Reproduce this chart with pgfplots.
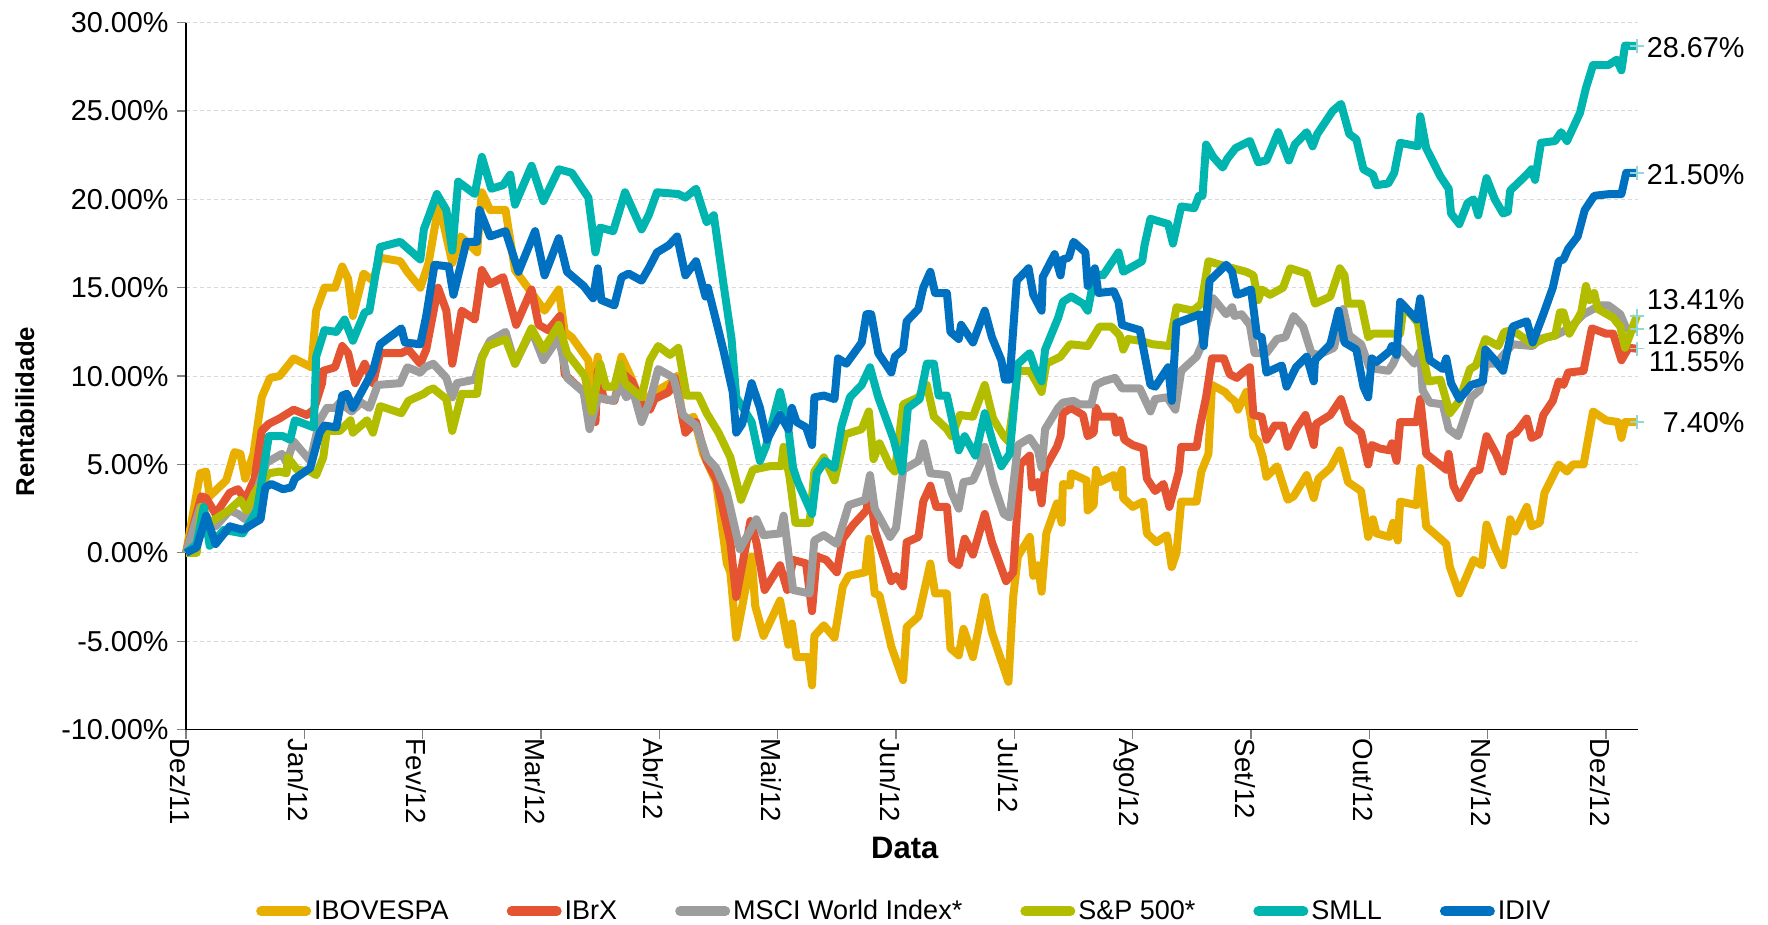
\documentclass[border=0pt]{standalone}
\usepackage{fontspec}
\setmainfont{Liberation Sans}
\usepackage{pgfplots}
\pgfplotsset{compat=1.18}
\definecolor{ibov}{HTML}{E9AF00}
\definecolor{ibrx}{HTML}{E45332}
\definecolor{msci}{HTML}{9D9D9D}
\definecolor{sp}{HTML}{B3BD00}
\definecolor{smll}{HTML}{00B5B0}
\definecolor{idiv}{HTML}{0070C0}
\definecolor{endc}{HTML}{8FD6D6}
\begin{document}
\begin{tikzpicture}
\begin{axis}[
  scale only axis, width=726pt, height=353.5pt,
  xmin=0, xmax=12.27, ymin=-10, ymax=30,
  clip=false,
  axis x line*=bottom, axis y line*=left,
  axis line style={black, line width=0.6pt, -},
  xtick={0,1,2,3,4,5,6,7,8,9,10,11,12},
  xticklabels={Dez/11,Jan/12,Fev/12,Mar/12,Abr/12,Mai/12,Jun/12,Jul/12,Ago/12,Set/12,Out/12,Nov/12,Dez/12},
  ytick={-10,-5,0,5,10,15,20,25,30},
  yticklabels={-10.00\%,-5.00\%,0.00\%,5.00\%,10.00\%,15.00\%,20.00\%,25.00\%,30.00\%},
  tick align=outside, major tick length=4.5pt,
  tick style={gray, line width=0.6pt},
  ymajorgrids, major grid style={draw=gray!30, line width=0.5pt, dash pattern=on 2pt off 1.5pt},
  yticklabel style={font=\fontsize{14.4}{17}\selectfont, anchor=east, inner sep=0pt, xshift=-4pt},
  xticklabel style={font=\fontsize{13.8}{16}\selectfont, rotate=-90, anchor=west, inner sep=0pt, yshift=-3pt},
  xlabel={Data}, ylabel={Rentabilidade},
  xlabel style={font=\fontsize{15.5}{18}\bfseries, at={(axis description cs:0.495,-0.167)}, anchor=center},
  ylabel style={font=\fontsize{12.9}{15}\bfseries, at={(axis description cs:-0.111,0.45)}, anchor=center, rotate=0},
  legend columns=6,
  legend style={draw=none, fill=none, at={(axis description cs:0.494,-0.257)}, anchor=center,
    font=\fontsize{13.5}{16}\selectfont, inner sep=0pt,
    nodes={inner sep=0pt},
    /tikz/every odd column/.append style={column sep=1.5pt},
    /tikz/every even column/.append style={column sep=29pt}},
  legend cell align=left,
  legend image code/.code={\draw[#1, line width=5pt, line cap=round] (2.5pt,0pt) -- (25pt,0pt);},
  every axis plot/.append style={line width=4pt, line join=round},
]
\addplot[ibov] coordinates {(0,0) (0.12,4.5) (0.17,4.6) (0.2,3.2) (0.34,4.1) (0.41,5.7) (0.46,5.6) (0.5,4.2) (0.57,5.6) (0.64,8.8) (0.71,9.9) (0.79,10.0) (0.91,11.0) (1.06,10.5) (1.1,13.7) (1.17,15.0) (1.26,15.0) (1.32,16.2) (1.37,15.5) (1.41,13.4) (1.5,15.8) (1.58,15.4) (1.64,16.7) (1.81,16.5) (1.87,15.9) (1.98,15.0) (2.05,16.4) (2.13,19.5) (2.17,18.8) (2.25,16.4) (2.32,17.9) (2.37,17.6) (2.46,17.0) (2.5,20.4) (2.57,19.4) (2.7,19.4) (2.78,16.0) (2.9,14.9) (3.03,13.7) (3.15,14.9) (3.2,12.5) (3.26,12.2) (3.4,10.9) (3.43,8.6) (3.48,11.1) (3.51,9.4) (3.62,9.4) (3.68,11.1) (3.75,10.1) (3.85,8.5) (3.96,9.1) (4.09,9.6) (4.15,10.0) (4.2,7.4) (4.29,7.7) (4.37,5.6) (4.48,4.0) (4.57,-0.6) (4.6,-1.1) (4.65,-4.8) (4.78,-0.2) (4.81,-3.0) (4.88,-4.7) (5.02,-2.7) (5.09,-5.2) (5.12,-4.0) (5.16,-5.9) (5.26,-5.9) (5.29,-7.5) (5.31,-4.7) (5.39,-4.1) (5.48,-4.8) (5.55,-1.9) (5.6,-1.3) (5.74,-1.1) (5.77,0.8) (5.82,-2.3) (5.86,-2.4) (5.96,-5.3) (6.06,-7.2) (6.09,-4.2) (6.19,-3.6) (6.29,-0.6) (6.33,-2.3) (6.43,-2.3) (6.46,-5.4) (6.53,-5.8) (6.57,-4.3) (6.65,-5.9) (6.75,-2.5) (6.81,-4.5) (6.88,-5.9) (6.95,-7.3) (6.99,-2.5) (7.03,-0.2) (7.13,0.9) (7.16,-1.3) (7.2,-0.7) (7.23,-2.2) (7.27,1.1) (7.36,2.8) (7.4,1.7) (7.41,3.9) (7.47,3.8) (7.48,4.5) (7.61,4.1) (7.62,2.4) (7.67,2.7) (7.69,4.7) (7.72,4.0) (7.84,4.4) (7.86,3.7) (7.91,4.7) (7.92,3.1) (8.0,2.6) (8.09,2.9) (8.12,1.1) (8.2,0.6) (8.29,1.0) (8.33,-0.8) (8.37,0.0) (8.41,2.9) (8.54,2.9) (8.58,4.6) (8.64,5.6) (8.67,9.5) (8.78,9.1) (8.82,8.8) (8.86,8.6) (8.89,8.1) (8.96,9.1) (9.0,7.6) (9.02,6.6) (9.06,6.3) (9.1,5.4) (9.13,4.3) (9.22,4.9) (9.31,3.0) (9.36,3.2) (9.47,4.4) (9.53,3.1) (9.57,4.2) (9.67,4.8) (9.75,5.8) (9.82,4.0) (9.93,3.5) (9.99,0.9) (10.03,1.9) (10.06,1.1) (10.17,0.9) (10.2,1.7) (10.24,0.7) (10.26,2.9) (10.4,2.7) (10.43,4.8) (10.48,1.5) (10.65,0.5) (10.68,-0.8) (10.76,-2.3) (10.88,-0.4) (10.95,-0.7) (10.99,1.6) (11.06,0.3) (11.13,-0.7) (11.19,1.9) (11.23,1.2) (11.33,2.6) (11.37,1.5) (11.44,1.7) (11.48,3.4) (11.6,5.0) (11.67,4.6) (11.72,5.0) (11.81,5.0) (11.89,8.0) (12.0,7.5) (12.1,7.4) (12.13,6.5) (12.16,7.4) (12.26,7.4)};
\addlegendentry{IBOVESPA}
\addplot[ibrx] coordinates {(0,0) (0.13,3.2) (0.17,3.1) (0.25,2.2) (0.37,3.4) (0.44,3.6) (0.5,3.0) (0.58,4.2) (0.64,6.9) (0.7,7.3) (0.79,7.6) (0.91,8.1) (1.02,7.8) (1.08,8.1) (1.15,9.6) (1.16,10.3) (1.26,10.5) (1.32,11.7) (1.37,11.3) (1.43,9.6) (1.51,10.7) (1.58,9.6) (1.64,11.3) (1.82,11.3) (1.88,11.5) (1.98,10.7) (2.03,11.5) (2.13,15.0) (2.2,13.7) (2.25,10.7) (2.33,13.7) (2.44,13.2) (2.5,16.0) (2.57,15.2) (2.68,15.6) (2.79,12.9) (2.92,14.9) (2.98,12.9) (3.06,12.6) (3.16,13.4) (3.2,10.1) (3.36,9.1) (3.46,7.4) (3.48,10.3) (3.53,8.7) (3.62,8.6) (3.68,10.2) (3.77,9.7) (3.85,8.4) (3.92,8.1) (3.96,8.7) (4.08,9.1) (4.13,9.9) (4.22,6.8) (4.31,7.4) (4.4,5.2) (4.48,4.2) (4.6,0.6) (4.65,-2.5) (4.77,1.8) (4.82,0.6) (4.89,-2.1) (5.02,-0.7) (5.08,-2.1) (5.13,-0.4) (5.24,-0.6) (5.29,-3.3) (5.33,-0.2) (5.41,-0.4) (5.5,-1.1) (5.55,0.8) (5.64,1.6) (5.75,2.4) (5.78,3.8) (5.82,1.3) (5.96,-1.6) (6.0,-1.3) (6.06,-1.9) (6.09,0.6) (6.19,0.9) (6.23,2.9) (6.29,3.8) (6.34,2.6) (6.43,2.6) (6.47,-0.4) (6.53,-0.7) (6.58,0.8) (6.65,-0.1) (6.75,2.2) (6.81,0.6) (6.93,-1.6) (6.99,-1.1) (7.05,5.0) (7.13,5.5) (7.15,3.7) (7.2,4.0) (7.23,2.8) (7.26,4.8) (7.36,6.0) (7.39,6.6) (7.41,7.9) (7.48,8.2) (7.58,7.8) (7.62,6.6) (7.67,6.8) (7.69,8.2) (7.72,7.7) (7.84,7.7) (7.86,6.8) (7.89,7.5) (7.93,6.4) (8.0,6.1) (8.09,5.9) (8.12,4.2) (8.19,3.5) (8.26,3.9) (8.31,2.6) (8.39,4.6) (8.41,6.0) (8.54,6.0) (8.57,7.2) (8.62,8.8) (8.67,11.0) (8.77,11.0) (8.82,10.1) (8.88,9.9) (8.93,10.2) (8.99,10.5) (9.02,7.8) (9.09,7.7) (9.13,6.4) (9.2,7.2) (9.27,7.2) (9.31,6.0) (9.38,7.0) (9.46,7.8) (9.53,6.1) (9.55,7.3) (9.67,7.8) (9.76,8.7) (9.82,7.4) (9.93,6.8) (9.99,5.0) (10.02,6.1) (10.09,5.9) (10.17,5.8) (10.19,6.2) (10.23,5.2) (10.26,7.4) (10.4,7.4) (10.43,8.7) (10.48,5.6) (10.65,4.7) (10.67,5.6) (10.71,3.8) (10.76,3.1) (10.88,4.6) (10.93,4.7) (10.99,6.6) (11.07,5.6) (11.13,4.6) (11.19,6.6) (11.24,6.8) (11.33,7.6) (11.37,6.5) (11.43,6.7) (11.47,7.8) (11.55,8.6) (11.6,9.7) (11.64,9.5) (11.68,10.2) (11.81,10.3) (11.88,12.7) (12.0,12.4) (12.06,12.4) (12.13,10.9) (12.19,11.6) (12.26,11.55)};
\addlegendentry{IBrX}
\addplot[msci] coordinates {(0,0) (0.12,2.6) (0.17,1.7) (0.25,1.5) (0.37,2.4) (0.44,2.2) (0.5,1.9) (0.58,3.2) (0.68,5.1) (0.81,5.6) (0.85,5.1) (0.91,6.3) (1.05,5.2) (1.13,7.5) (1.19,8.2) (1.26,8.2) (1.3,8.5) (1.4,8.0) (1.48,8.5) (1.55,8.2) (1.62,9.5) (1.81,9.6) (1.87,10.5) (1.98,10.2) (2.02,10.5) (2.09,10.7) (2.2,9.9) (2.25,8.8) (2.29,9.6) (2.44,9.8) (2.5,11.1) (2.57,12.0) (2.7,12.5) (2.78,10.7) (2.92,12.6) (3.02,10.9) (3.15,12.2) (3.22,9.9) (3.36,9.1) (3.41,7.0) (3.48,8.8) (3.61,8.6) (3.68,9.5) (3.72,8.8) (3.78,9.1) (3.85,7.4) (3.92,8.6) (3.99,10.4) (4.12,9.9) (4.2,7.8) (4.31,7.2) (4.4,5.4) (4.48,4.8) (4.57,3.4) (4.68,0.2) (4.82,1.9) (4.88,1.0) (5.02,1.1) (5.05,2.1) (5.13,-2.1) (5.27,-2.3) (5.31,0.7) (5.39,1.0) (5.5,0.5) (5.6,2.7) (5.74,3.0) (5.78,4.4) (5.82,2.5) (5.95,0.9) (6.0,1.4) (6.06,4.7) (6.19,5.2) (6.23,6.2) (6.29,4.5) (6.43,4.4) (6.47,3.4) (6.53,2.5) (6.57,4.0) (6.65,4.1) (6.71,5.0) (6.75,6.0) (6.82,4.0) (6.91,2.2) (6.96,2.0) (7.03,6.1) (7.13,6.5) (7.2,5.8) (7.23,4.8) (7.26,7.0) (7.37,8.2) (7.41,8.5) (7.5,8.6) (7.55,8.4) (7.65,8.4) (7.69,9.5) (7.75,9.7) (7.85,9.9) (7.91,9.3) (8.06,9.3) (8.15,8.0) (8.19,8.7) (8.29,8.8) (8.36,8.1) (8.41,10.3) (8.54,11.1) (8.58,11.7) (8.68,14.4) (8.79,13.5) (8.84,13.9) (8.86,13.4) (8.92,13.5) (8.99,12.9) (9.03,11.3) (9.13,11.3) (9.22,12.1) (9.29,12.2) (9.36,13.4) (9.44,12.8) (9.51,11.3) (9.57,11.2) (9.7,11.6) (9.74,12.7) (9.78,13.8) (9.83,12.3) (9.93,11.8) (10.0,10.5) (10.06,10.4) (10.16,10.3) (10.2,10.7) (10.26,11.6) (10.38,10.7) (10.43,11.4) (10.45,9.2) (10.51,8.5) (10.62,8.4) (10.67,7.0) (10.75,6.6) (10.86,8.8) (10.93,9.2) (10.99,10.7) (11.07,10.7) (11.21,11.8) (11.38,11.7) (11.44,12.1) (11.57,12.3) (11.69,12.7) (11.81,13.5) (11.95,14.0) (12.02,14.0) (12.12,13.5) (12.17,12.7) (12.26,12.68)};
\addlegendentry{MSCI World Index*}
\addplot[sp] coordinates {(0,0) (0.09,0) (0.13,2.6) (0.2,1.7) (0.36,2.4) (0.46,3.0) (0.51,2.4) (0.58,3.4) (0.7,4.5) (0.79,4.6) (0.85,4.5) (0.86,5.4) (0.94,4.7) (1.05,4.6) (1.1,4.4) (1.16,5.4) (1.19,6.9) (1.3,6.9) (1.39,7.5) (1.41,6.8) (1.53,7.5) (1.58,6.8) (1.64,8.3) (1.82,7.9) (1.88,8.6) (2.01,9.0) (2.05,9.2) (2.09,9.3) (2.2,8.7) (2.25,6.9) (2.33,9.0) (2.46,9.0) (2.5,11.0) (2.55,11.7) (2.7,12.1) (2.78,10.7) (2.92,12.7) (3.02,11.5) (3.15,12.9) (3.22,11.3) (3.37,10.0) (3.43,8.0) (3.5,10.7) (3.55,9.4) (3.62,9.4) (3.67,10.7) (3.71,9.6) (3.85,8.8) (3.92,10.9) (3.99,11.7) (4.09,11.2) (4.16,11.6) (4.23,8.9) (4.33,8.9) (4.4,7.9) (4.5,6.8) (4.6,5.4) (4.69,3.0) (4.79,4.7) (4.93,4.9) (5.03,4.9) (5.05,6.0) (5.1,4.3) (5.15,1.7) (5.27,1.7) (5.31,4.6) (5.39,5.4) (5.48,4.1) (5.57,6.7) (5.71,7.0) (5.77,8.0) (5.81,5.3) (5.86,6.2) (5.95,4.9) (5.99,4.6) (6.06,8.4) (6.19,8.8) (6.26,9.5) (6.32,7.7) (6.43,7.0) (6.47,6.6) (6.54,7.8) (6.65,7.7) (6.75,9.5) (6.82,7.6) (6.91,6.6) (6.95,6.3) (7.03,10.3) (7.13,10.3) (7.19,9.6) (7.23,9.1) (7.27,10.7) (7.39,11.1) (7.47,11.8) (7.62,11.7) (7.72,12.8) (7.82,12.8) (7.89,12.3) (7.92,11.5) (7.96,12.1) (8.06,12.0) (8.17,11.8) (8.31,11.7) (8.37,13.9) (8.51,13.7) (8.58,14.1) (8.64,16.5) (8.79,16.2) (8.96,15.9) (9.02,15.7) (9.06,14.3) (9.09,14.9) (9.16,14.6) (9.27,15.0) (9.33,16.1) (9.47,15.8) (9.54,14.1) (9.67,14.5) (9.75,16.1) (9.79,15.7) (9.82,14.1) (9.93,14.1) (9.99,12.2) (10.03,12.4) (10.26,12.4) (10.29,14.0) (10.41,13.0) (10.45,11.2) (10.5,9.7) (10.6,9.8) (10.68,7.9) (10.76,8.6) (10.85,10.4) (10.9,10.6) (10.98,12.1) (11.09,11.7) (11.14,12.5) (11.21,12.6) (11.38,11.8) (11.5,12.2) (11.57,12.3) (11.61,13.6) (11.64,13.6) (11.69,12.4) (11.79,13.6) (11.83,15.1) (11.86,14.3) (11.9,14.7) (11.93,13.8) (12.06,13.3) (12.12,12.8) (12.16,11.6) (12.2,12.3) (12.26,13.41)};
\addlegendentry{S\&P 500*}
\addplot[smll] coordinates {(0,0) (0.09,0.5) (0.15,2.6) (0.2,0.4) (0.32,1.3) (0.48,1.1) (0.6,2.4) (0.7,6.6) (0.82,6.6) (0.88,6.4) (0.92,7.5) (1.08,7.1) (1.1,11.1) (1.17,12.6) (1.27,12.5) (1.34,13.2) (1.41,12.0) (1.51,13.6) (1.55,13.7) (1.64,17.3) (1.81,17.6) (1.98,16.6) (2.01,18.3) (2.12,20.3) (2.2,19.4) (2.25,17.1) (2.3,21.0) (2.44,20.3) (2.5,22.4) (2.58,20.6) (2.68,20.8) (2.74,21.4) (2.78,19.7) (2.92,21.9) (3.02,19.9) (3.15,21.7) (3.26,21.5) (3.4,20.1) (3.46,17.0) (3.5,18.4) (3.61,18.2) (3.71,20.4) (3.85,18.3) (3.91,19.1) (3.98,20.4) (4.16,20.3) (4.22,20.1) (4.31,20.6) (4.4,18.7) (4.46,19.1) (4.54,15.3) (4.61,12.1) (4.65,8.8) (4.78,7.4) (4.85,5.2) (4.9,6.0) (5.02,9.1) (5.09,7.0) (5.13,4.8) (5.17,4.0) (5.29,2.2) (5.33,4.5) (5.4,5.2) (5.48,4.8) (5.54,7.2) (5.61,8.8) (5.71,9.5) (5.78,10.5) (5.85,8.8) (5.98,6.4) (6.05,4.6) (6.1,8.2) (6.2,8.7) (6.26,10.7) (6.32,10.7) (6.36,8.9) (6.43,8.9) (6.53,5.8) (6.58,6.6) (6.67,5.5) (6.75,7.9) (6.82,6.2) (6.89,4.9) (6.96,5.6) (7.03,10.7) (7.13,11.3) (7.17,10.5) (7.23,9.7) (7.26,11.5) (7.37,13.3) (7.41,14.2) (7.48,14.5) (7.58,14.1) (7.62,13.7) (7.68,15.8) (7.75,15.7) (7.88,17.0) (7.92,15.9) (8.08,16.5) (8.1,17.4) (8.15,18.9) (8.3,18.6) (8.34,17.5) (8.41,19.6) (8.52,19.5) (8.56,20.2) (8.59,20.2) (8.62,23.1) (8.68,22.4) (8.76,21.8) (8.8,22.3) (8.87,22.9) (8.99,23.3) (9.06,22.1) (9.13,22.2) (9.23,23.8) (9.32,22.2) (9.37,23.1) (9.47,23.8) (9.52,23.0) (9.56,23.7) (9.69,25.0) (9.76,25.4) (9.83,23.7) (9.89,23.4) (9.95,21.7) (10.03,21.4) (10.06,20.8) (10.16,20.9) (10.21,21.5) (10.26,23.2) (10.41,23.0) (10.43,24.7) (10.48,22.9) (10.6,21.3) (10.67,20.6) (10.69,19.2) (10.76,18.6) (10.83,19.8) (10.88,20.0) (10.92,19.1) (10.99,21.2) (11.06,20.0) (11.13,19.2) (11.17,19.3) (11.19,20.5) (11.33,21.4) (11.37,21.7) (11.4,21.1) (11.45,23.2) (11.57,23.3) (11.62,23.8) (11.67,23.3) (11.78,24.9) (11.83,26.3) (11.89,27.6) (12.02,27.6) (12.09,27.9) (12.13,27.3) (12.16,28.7) (12.26,28.67)};
\addlegendentry{SMLL}
\addplot[idiv] coordinates {(0,0) (0.09,0.3) (0.17,2.1) (0.25,0.5) (0.37,1.5) (0.48,1.3) (0.63,1.9) (0.67,3.7) (0.72,3.9) (0.82,3.6) (0.89,3.7) (0.92,4.2) (1.05,4.8) (1.13,6.8) (1.17,7.2) (1.27,7.1) (1.32,8.9) (1.36,9.0) (1.41,8.2) (1.58,10.3) (1.64,11.8) (1.82,12.7) (1.85,11.9) (1.98,11.8) (2.03,13.4) (2.1,16.3) (2.22,16.2) (2.26,14.6) (2.37,17.6) (2.46,17.6) (2.48,19.4) (2.57,17.9) (2.7,18.2) (2.81,15.9) (2.95,18.2) (3.03,15.7) (3.15,17.8) (3.22,15.9) (3.36,15.1) (3.44,14.4) (3.48,16.1) (3.51,14.3) (3.62,14.0) (3.68,15.6) (3.74,15.8) (3.85,15.4) (3.91,16.1) (3.98,17.0) (4.08,17.4) (4.15,17.9) (4.22,15.7) (4.31,16.5) (4.39,14.5) (4.41,15.0) (4.54,11.5) (4.62,9.1) (4.65,6.8) (4.7,7.3) (4.78,9.6) (4.85,8.2) (4.91,6.4) (5.02,7.8) (5.09,7.0) (5.12,8.2) (5.16,7.4) (5.24,7.1) (5.29,6.1) (5.31,8.8) (5.39,8.9) (5.48,8.7) (5.51,11.0) (5.58,10.7) (5.71,11.9) (5.75,13.5) (5.79,13.5) (5.85,11.3) (5.96,10.2) (5.99,11.1) (6.06,11.5) (6.09,13.1) (6.19,13.8) (6.23,15.0) (6.29,15.9) (6.33,14.7) (6.43,14.7) (6.46,12.5) (6.53,12.1) (6.55,12.9) (6.65,11.9) (6.75,13.7) (6.81,12.2) (6.89,10.9) (6.92,9.8) (6.96,9.8) (7.02,15.4) (7.12,16.1) (7.16,14.6) (7.23,13.7) (7.24,15.6) (7.34,16.9) (7.39,15.7) (7.41,16.6) (7.46,16.7) (7.5,17.6) (7.6,17.0) (7.62,15.1) (7.68,16.1) (7.71,14.7) (7.84,14.8) (7.88,14.2) (7.91,12.9) (8.06,12.6) (8.15,9.5) (8.19,9.4) (8.3,10.5) (8.33,8.6) (8.37,13.0) (8.57,13.5) (8.6,11.7) (8.65,15.4) (8.79,16.3) (8.84,15.9) (8.88,14.6) (8.93,14.7) (9.0,14.9) (9.05,12.3) (9.09,12.2) (9.13,10.2) (9.26,10.6) (9.3,9.4) (9.38,10.5) (9.47,11.1) (9.53,9.7) (9.54,10.9) (9.67,11.8) (9.74,13.7) (9.79,11.9) (9.89,11.5) (9.95,9.4) (9.99,8.8) (10.02,11.0) (10.06,10.8) (10.17,11.4) (10.19,11.7) (10.23,11.2) (10.26,14.2) (10.4,13.2) (10.43,14.4) (10.47,12.5) (10.51,10.9) (10.62,10.4) (10.65,11.0) (10.69,9.6) (10.76,8.7) (10.86,9.5) (10.96,9.7) (10.98,11.5) (11.06,10.9) (11.13,10.3) (11.21,12.8) (11.33,13.1) (11.38,11.9) (11.47,13.5) (11.55,15.0) (11.6,16.5) (11.64,16.6) (11.68,17.2) (11.76,17.9) (11.82,19.4) (11.9,20.2) (12.03,20.3) (12.13,20.3) (12.17,21.5) (12.26,21.5)};
\addlegendentry{IDIV}
\addplot[forget plot, only marks, mark=+, mark size=3.5pt, endc, line width=0.8pt] coordinates {(12.26,28.67) (12.26,21.5) (12.26,13.41) (12.26,12.68) (12.26,11.55) (12.26,7.4)};
\node[anchor=east, inner sep=0pt, xshift=54pt, font=\fontsize{14.4}{17}\selectfont] at (axis cs:12.26,28.6) {28.67\%};
\node[anchor=east, inner sep=0pt, xshift=54pt, font=\fontsize{14.4}{17}\selectfont] at (axis cs:12.26,21.4) {21.50\%};
\node[anchor=east, inner sep=0pt, xshift=54pt, font=\fontsize{14.4}{17}\selectfont] at (axis cs:12.26,14.35) {13.41\%};
\node[anchor=east, inner sep=0pt, xshift=54pt, font=\fontsize{14.4}{17}\selectfont] at (axis cs:12.26,12.35) {12.68\%};
\node[anchor=east, inner sep=0pt, xshift=54pt, font=\fontsize{14.4}{17}\selectfont] at (axis cs:12.26,10.8) {11.55\%};
\node[anchor=east, inner sep=0pt, xshift=54pt, font=\fontsize{14.4}{17}\selectfont] at (axis cs:12.26,7.35) {7.40\%};
\end{axis}
\pgfresetboundingbox
\path[use as bounding box] (-93pt,-97.7pt) rectangle (791pt,364.8pt);
\end{tikzpicture}
\end{document}
